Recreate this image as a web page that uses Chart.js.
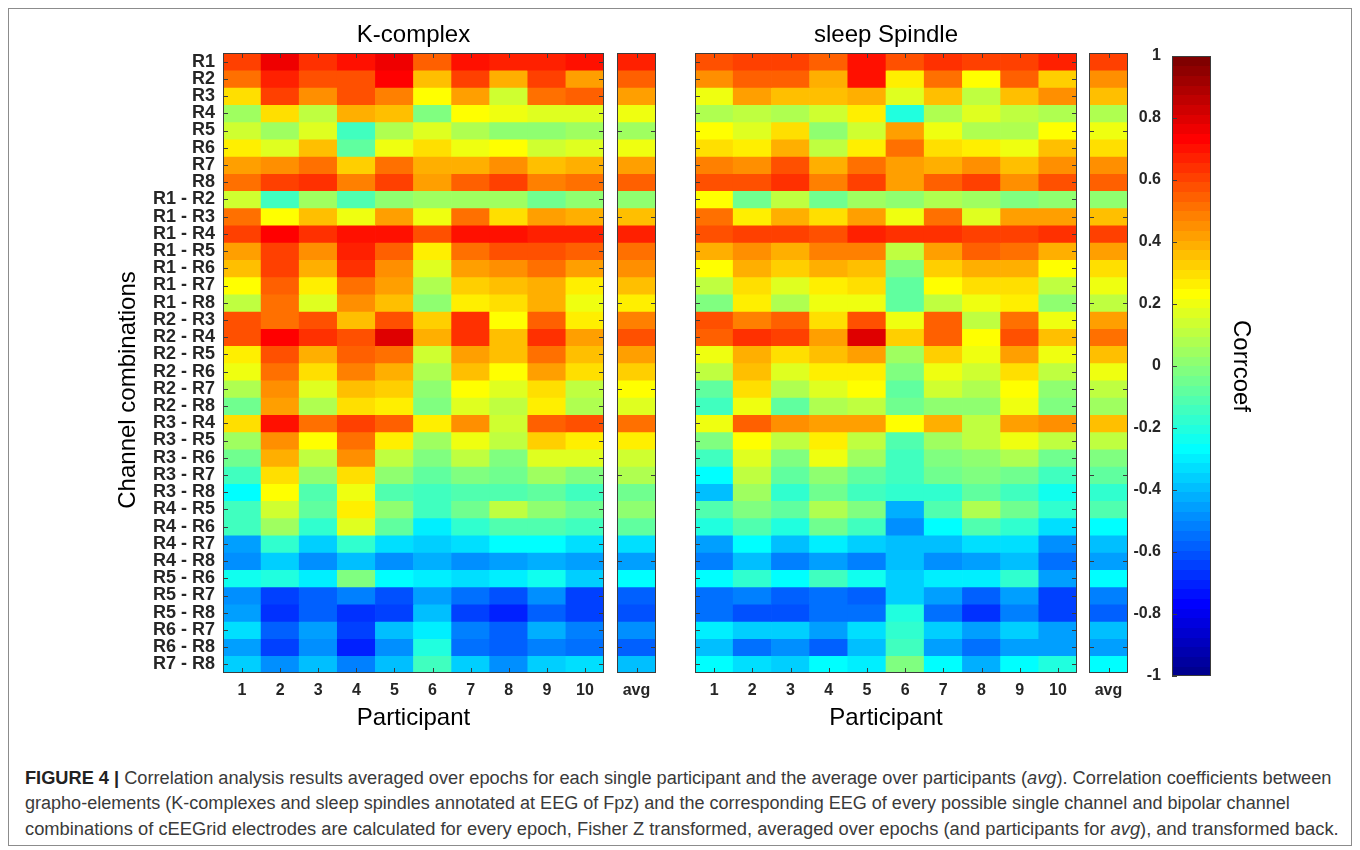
<!DOCTYPE html>
<html>
<head>
<meta charset="utf-8">
<script src="https://cdn.jsdelivr.net/npm/chart.js@4.4.1/dist/chart.umd.min.js"></script>
<style>
html,body{margin:0;padding:0;background:#fff;}
#fig{position:relative;width:1360px;height:850px;overflow:hidden;background:#fff;font-family:"Liberation Sans",Arial,sans-serif;}
.cv{position:absolute;top:0;}
.frame{position:absolute;left:8px;top:8px;width:1344px;height:838px;border:1px solid #8c8c8c;box-sizing:border-box;}
.ytitle{position:absolute;width:400px;height:30px;line-height:30px;text-align:center;font-size:24px;color:#000;transform:rotate(-90deg);transform-origin:50% 50%;}
.cap{position:absolute;left:25px;white-space:nowrap;font-family:"Liberation Sans Narrow","Liberation Sans",Arial,sans-serif;font-size:18px;line-height:22px;height:22px;color:#3a3a3a;transform-origin:0 50%;}
.cap b{color:#222;}
</style>
</head>
<body>
<div id="fig">
  <div class="frame"></div>
  <canvas id="kMain" class="cv" width="614" height="740" style="left:0px"></canvas>
  <canvas id="kAvg" class="cv" width="70" height="740" style="left:600px"></canvas>
  <canvas id="sMain" class="cv" width="410" height="740" style="left:680px"></canvas>
  <canvas id="sAvg" class="cv" width="70" height="740" style="left:1075px"></canvas>
  <canvas id="cbar" class="cv" width="210" height="740" style="left:1090px"></canvas>
  <div class="ytitle" style="left:-73px;top:375px;">Channel combinations</div>
  <div class="cap" id="cap1" style="top:767px;"><b>FIGURE 4 |</b> Correlation analysis results averaged over epochs for each single participant and the average over participants (<i>avg</i>). Correlation coefficients between</div>
  <div class="cap" id="cap2" style="top:792px;">grapho-elements (K-complexes and sleep spindles annotated at EEG of Fpz) and the corresponding EEG of every possible single channel and bipolar channel</div>
  <div class="cap" id="cap3" style="top:818px;">combinations of cEEGrid electrodes are calculated for every epoch, Fisher Z transformed, averaged over epochs (and participants for <i>avg</i>), and transformed back.</div>
</div>
<script>
// ---------------- DATA ----------------
const channels = ['R1','R2','R3','R4','R5','R6','R7','R8',
  'R1 - R2','R1 - R3','R1 - R4','R1 - R5','R1 - R6','R1 - R7','R1 - R8',
  'R2 - R3','R2 - R4','R2 - R5','R2 - R6','R2 - R7','R2 - R8',
  'R3 - R4','R3 - R5','R3 - R6','R3 - R7','R3 - R8',
  'R4 - R5','R4 - R6','R4 - R7','R4 - R8',
  'R5 - R6','R5 - R7','R5 - R8','R6 - R7','R6 - R8','R7 - R8'];
const participants = ['1','2','3','4','5','6','7','8','9','10'];
const avgLabels = ['avg'];
const kTitle = 'K-complex';
const sTitle = 'sleep Spindle';

const kComplex = [
  [0.62,0.78,0.66,0.72,0.79,0.57,0.72,0.70,0.70,0.72],
  [0.53,0.68,0.60,0.60,0.75,0.38,0.63,0.40,0.63,0.44],
  [0.32,0.63,0.47,0.60,0.50,0.25,0.44,0.15,0.53,0.56],
  [0.06,0.32,0.13,0.40,0.38,0.00,0.25,0.21,0.18,0.18],
  [0.15,0.06,0.18,-0.13,0.10,0.18,0.08,0.03,0.03,0.06],
  [0.29,0.18,0.36,-0.06,0.21,0.31,0.21,0.24,0.16,0.18],
  [0.44,0.47,0.53,0.34,0.52,0.40,0.42,0.48,0.38,0.41],
  [0.53,0.63,0.66,0.50,0.63,0.44,0.56,0.63,0.50,0.53],
  [0.15,-0.13,0.06,-0.09,0.03,0.06,0.06,0.06,-0.02,0.03],
  [0.53,0.25,0.38,0.21,0.45,0.21,0.53,0.32,0.44,0.41],
  [0.63,0.75,0.66,0.72,0.73,0.60,0.72,0.72,0.70,0.70],
  [0.44,0.63,0.47,0.68,0.56,0.27,0.53,0.60,0.60,0.56],
  [0.38,0.63,0.41,0.66,0.48,0.19,0.44,0.47,0.52,0.44],
  [0.25,0.55,0.29,0.53,0.44,0.10,0.34,0.38,0.41,0.29],
  [0.13,0.53,0.18,0.47,0.38,0.03,0.27,0.32,0.40,0.21],
  [0.58,0.53,0.60,0.36,0.60,0.34,0.66,0.25,0.55,0.27],
  [0.58,0.75,0.66,0.60,0.82,0.40,0.66,0.38,0.66,0.44],
  [0.29,0.58,0.41,0.56,0.53,0.16,0.44,0.38,0.52,0.36],
  [0.23,0.53,0.32,0.50,0.41,0.10,0.36,0.25,0.44,0.31],
  [0.08,0.47,0.18,0.38,0.34,0.03,0.25,0.19,0.32,0.13],
  [-0.02,0.44,0.08,0.32,0.29,0.00,0.18,0.13,0.29,0.10],
  [0.32,0.72,0.53,0.63,0.56,0.29,0.47,0.16,0.55,0.58],
  [0.06,0.47,0.25,0.53,0.29,0.06,0.21,0.13,0.34,0.29],
  [-0.02,0.41,0.13,0.47,0.14,0.00,0.11,0.00,0.18,0.18],
  [-0.13,0.32,0.03,0.32,0.03,-0.06,0.00,-0.02,0.06,0.00],
  [-0.25,0.25,-0.09,0.23,-0.09,-0.13,-0.09,-0.09,-0.06,-0.13],
  [-0.13,0.16,-0.06,0.29,0.03,-0.13,-0.02,0.14,0.03,-0.02],
  [-0.13,0.06,-0.16,0.19,-0.06,-0.28,-0.16,-0.09,-0.09,-0.13],
  [-0.43,-0.16,-0.34,-0.16,-0.31,-0.33,-0.31,-0.25,-0.25,-0.31],
  [-0.47,-0.33,-0.48,-0.38,-0.47,-0.41,-0.48,-0.43,-0.41,-0.44],
  [-0.22,-0.19,-0.28,0.00,-0.25,-0.28,-0.31,-0.28,-0.23,-0.33],
  [-0.47,-0.63,-0.55,-0.50,-0.58,-0.44,-0.53,-0.58,-0.48,-0.64],
  [-0.45,-0.66,-0.56,-0.66,-0.61,-0.38,-0.64,-0.68,-0.55,-0.64],
  [-0.31,-0.56,-0.44,-0.63,-0.38,-0.28,-0.50,-0.56,-0.41,-0.50],
  [-0.43,-0.63,-0.48,-0.69,-0.47,-0.19,-0.53,-0.56,-0.50,-0.53],
  [-0.33,-0.47,-0.38,-0.50,-0.36,-0.13,-0.34,-0.48,-0.33,-0.30]
];
const kComplexAvg = [0.70,0.56,0.44,0.21,0.06,0.21,0.44,0.56,0.03,0.38,0.70,0.53,0.47,0.38,0.29,
  0.50,0.60,0.45,0.34,0.25,0.19,0.52,0.29,0.16,0.08,-0.02,0.03,-0.06,-0.30,-0.44,
  -0.25,-0.55,-0.60,-0.47,-0.56,-0.38];

const spindle = [
  [0.60,0.63,0.63,0.56,0.72,0.60,0.66,0.63,0.63,0.70],
  [0.47,0.56,0.56,0.41,0.72,0.29,0.53,0.25,0.56,0.34],
  [0.21,0.44,0.38,0.38,0.41,0.19,0.36,0.13,0.38,0.48],
  [0.08,0.13,0.10,0.16,0.29,-0.19,0.10,0.18,0.13,0.10],
  [0.24,0.18,0.31,0.03,0.16,0.45,0.21,0.10,0.10,0.25],
  [0.32,0.29,0.41,0.14,0.29,0.53,0.31,0.29,0.21,0.38],
  [0.50,0.47,0.58,0.40,0.53,0.44,0.41,0.48,0.38,0.48],
  [0.58,0.58,0.66,0.50,0.63,0.44,0.55,0.63,0.48,0.58],
  [0.25,-0.02,0.13,-0.02,0.06,0.03,0.10,0.06,0.00,0.03],
  [0.52,0.29,0.40,0.32,0.44,0.23,0.52,0.19,0.44,0.44],
  [0.58,0.63,0.63,0.60,0.70,0.66,0.66,0.63,0.63,0.66],
  [0.40,0.47,0.41,0.50,0.50,0.14,0.45,0.55,0.53,0.41],
  [0.25,0.41,0.34,0.41,0.36,0.00,0.34,0.40,0.42,0.25],
  [0.13,0.32,0.19,0.29,0.32,-0.06,0.25,0.32,0.32,0.13],
  [0.00,0.29,0.10,0.21,0.21,-0.06,0.13,0.21,0.29,0.03],
  [0.58,0.50,0.56,0.31,0.60,0.21,0.56,0.14,0.53,0.21],
  [0.56,0.66,0.63,0.44,0.80,0.34,0.56,0.25,0.60,0.38],
  [0.23,0.41,0.32,0.36,0.45,0.06,0.34,0.23,0.44,0.23],
  [0.13,0.38,0.19,0.29,0.29,0.00,0.23,0.16,0.32,0.13],
  [-0.06,0.31,0.08,0.19,0.25,-0.06,0.16,0.08,0.25,0.03],
  [-0.13,0.23,-0.06,0.10,0.13,-0.02,0.03,0.03,0.21,0.00],
  [0.23,0.56,0.48,0.44,0.45,0.25,0.41,0.13,0.45,0.48],
  [0.00,0.25,0.13,0.29,0.14,-0.09,0.06,0.13,0.23,0.13],
  [-0.13,0.18,0.00,0.21,0.06,-0.13,0.00,0.03,0.10,-0.02],
  [-0.25,0.11,-0.06,0.03,-0.06,-0.13,-0.02,0.00,-0.02,-0.13],
  [-0.36,0.06,-0.16,-0.02,-0.13,-0.16,-0.16,-0.06,-0.13,-0.22],
  [-0.09,0.00,-0.06,0.10,0.00,-0.41,-0.09,0.10,-0.02,-0.16],
  [-0.19,-0.09,-0.19,-0.02,-0.13,-0.47,-0.25,-0.09,-0.16,-0.31],
  [-0.44,-0.25,-0.39,-0.28,-0.34,-0.39,-0.36,-0.30,-0.30,-0.48],
  [-0.50,-0.36,-0.50,-0.43,-0.50,-0.39,-0.48,-0.44,-0.38,-0.53],
  [-0.25,-0.16,-0.25,-0.13,-0.22,-0.33,-0.28,-0.28,-0.16,-0.43],
  [-0.53,-0.50,-0.56,-0.52,-0.55,-0.34,-0.44,-0.55,-0.43,-0.61],
  [-0.53,-0.58,-0.58,-0.52,-0.53,-0.19,-0.52,-0.66,-0.50,-0.61],
  [-0.28,-0.34,-0.34,-0.43,-0.31,-0.16,-0.33,-0.45,-0.34,-0.45],
  [-0.36,-0.52,-0.47,-0.55,-0.38,-0.13,-0.44,-0.53,-0.44,-0.45],
  [-0.25,-0.30,-0.33,-0.25,-0.28,0.00,-0.25,-0.41,-0.25,-0.19]
];
const spindleAvg = [0.63,0.47,0.36,0.10,0.21,0.32,0.47,0.55,0.03,0.38,0.63,0.44,0.31,0.21,0.14,
  0.44,0.53,0.36,0.23,0.13,0.06,0.38,0.13,0.00,-0.06,-0.16,-0.09,-0.26,-0.36,-0.45,
  -0.25,-0.50,-0.55,-0.36,-0.44,-0.25];

const colorbarTicks = [-1,-0.8,-0.6,-0.4,-0.2,0,0.2,0.4,0.6,0.8,1];
const avgTickRows = [4,9,14,19,24,29,34];

// ---------------- COLORMAP (jet, 64 levels) ----------------
const NLEV = 64;
function jetAt(t) {
  const c = x => Math.round(255 * Math.max(0, Math.min(1, x)));
  return 'rgb(' + c(1.5 - Math.abs(4*t - 3)) + ',' + c(1.5 - Math.abs(4*t - 2)) + ',' + c(1.5 - Math.abs(4*t - 1)) + ')';
}
function jetColor(v) {
  let k = Math.round((v + 1) / 2 * NLEV);
  k = Math.max(1, Math.min(NLEV, k));
  return jetAt(k / NLEV);
}

// ---------------- CHART SETUP ----------------
const FAMILY = "'Liberation Sans', Arial, Helvetica, sans-serif";
Chart.defaults.font.family = FAMILY;
Chart.defaults.color = '#262626';

const frameTicks = {
  id: 'frameTicks',
  afterDatasetsDraw(chart, args, opts) {
    const {ctx, chartArea: a, scales} = chart;
    const L = 5;
    ctx.save();
    ctx.strokeStyle = '#3c3c3c';
    ctx.lineWidth = 1;
    ctx.beginPath();
    (opts.rows || []).forEach(r => {
      const py = Math.round(scales.y.getPixelForValue(r + 0.5)) + 0.5;
      ctx.moveTo(a.left, py); ctx.lineTo(a.left + L, py);
      ctx.moveTo(a.right, py); ctx.lineTo(a.right - L, py);
    });
    if (opts.cols) {
      const xs = scales.x;
      for (let i = 0; i < xs.ticks.length; i++) {
        const px = Math.round(xs.getPixelForTick(i)) + 0.5;
        ctx.moveTo(px, a.top); ctx.lineTo(px, a.top + L);
        ctx.moveTo(px, a.bottom); ctx.lineTo(px, a.bottom - L);
      }
    }
    ctx.stroke();
    ctx.strokeRect(Math.round(a.left) + 0.5, Math.round(a.top) + 0.5, Math.round(a.width) - 1, Math.round(a.height) - 1);
    ctx.restore();
  }
};

function heatChart(id, cols, matrix, o) {
  const datasets = matrix.map((row, r) => ({
    data: row.map(() => [r, r + 1]),
    backgroundColor: row.map(jetColor),
    borderWidth: 0,
    barPercentage: 1,
    categoryPercentage: 1,
    grouped: false
  }));
  const scales = {
    x: {
      type: 'category',
      offset: true,
      grid: {display: false, drawTicks: false},
      border: {display: false},
      ticks: {padding: 8, font: {size: 16, weight: 'bold'}, color: '#262626', maxRotation: 0, autoSkip: false},
      title: {display: !!o.xTitle, text: o.xTitle || '', font: {size: 24}, color: '#000', padding: {top: 0, bottom: 0}},
      afterFit: s => { s.height = 60; }
    },
    y: {
      type: 'linear', min: 0, max: channels.length, reverse: true,
      display: !!o.yLabels,
      afterBuildTicks: s => { s.ticks = channels.map((_, i) => ({value: i + 0.5})); },
      grid: {display: false, drawTicks: false},
      border: {display: false},
      ticks: {autoSkip: false, padding: 8, font: {size: 18, weight: 'bold'}, color: '#262626',
              callback: (v, i) => channels[i]},
      afterFit: s => { if (o.yWidth) s.width = o.yWidth; }
    }
  };
  if (o.title) {
    scales.xt = {
      type: 'linear', position: 'top', min: 0, max: 1,
      grid: {display: false, drawTicks: false}, border: {display: false},
      ticks: {display: false},
      title: {display: true, text: o.title, font: {size: 24}, color: '#000', padding: {top: 21, bottom: 0}},
      afterFit: s => { s.height = 53; }
    };
  }
  return new Chart(document.getElementById(id), {
    type: 'bar',
    data: {labels: cols, datasets},
    options: {
      responsive: false, animation: false, devicePixelRatio: 1,
      layout: {padding: o.padding},
      plugins: {legend: {display: false}, tooltip: {enabled: false}, title: {display: false},
                frameTicks: {rows: o.tickRows, cols: true}},
      scales
    },
    plugins: [frameTicks]
  });
}

const allRows = channels.map((_, i) => i);

heatChart('kMain', participants, kComplex, {
  yLabels: true, yWidth: 223, title: kTitle, xTitle: 'Participant', tickRows: allRows,
  padding: {left: 0, right: 10, top: 0, bottom: 7}
});
heatChart('kAvg', avgLabels, kComplexAvg.map(v => [v]), {
  tickRows: avgTickRows, padding: {left: 17, right: 14, top: 53, bottom: 7}
});
heatChart('sMain', participants, spindle, {
  title: sTitle, xTitle: 'Participant', tickRows: allRows,
  padding: {left: 15, right: 13, top: 0, bottom: 7}
});
heatChart('sAvg', avgLabels, spindleAvg.map(v => [v]), {
  tickRows: avgTickRows, padding: {left: 14, right: 17, top: 53, bottom: 7}
});

// ---------------- COLORBAR ----------------
const colorbarPlugin = {
  id: 'colorbarPlugin',
  beforeDatasetsDraw(chart) {
    const {ctx, chartArea: a, scales: {y}} = chart;
    ctx.save();
    for (let k = 1; k <= NLEV; k++) {
      const lo = -1 + (k - 1) * 2 / NLEV, hi = -1 + k * 2 / NLEV;
      const y0 = y.getPixelForValue(hi), y1 = y.getPixelForValue(lo);
      ctx.fillStyle = jetAt(k / NLEV);
      ctx.fillRect(a.left, Math.floor(y0), a.width, Math.ceil(y1) - Math.floor(y0));
    }
    ctx.strokeStyle = '#3c3c3c'; ctx.lineWidth = 1;
    ctx.beginPath();
    y.ticks.forEach(t => {
      const py = Math.round(y.getPixelForValue(t.value)) + 0.5;
      ctx.moveTo(a.left, py); ctx.lineTo(a.left + 5, py);
    });
    ctx.stroke();
    ctx.strokeRect(Math.round(a.left) + 0.5, Math.round(a.top) + 0.5, Math.round(a.width) - 1, Math.round(a.height) - 1);
    ctx.restore();
  }
};
new Chart(document.getElementById('cbar'), {
  type: 'scatter',
  data: {datasets: [{data: []}]},
  options: {
    responsive: false, animation: false, devicePixelRatio: 1,
    layout: {padding: {left: 0, right: 0, top: 56, bottom: 64}},
    plugins: {legend: {display: false}, tooltip: {enabled: false}},
    scales: {
      x: {display: false, min: 0, max: 1},
      y: {
        type: 'linear', position: 'left', min: -1, max: 1,
        afterBuildTicks: s => { s.ticks = colorbarTicks.map(v => ({value: v})); },
        grid: {display: false, drawTicks: false}, border: {display: false},
        ticks: {autoSkip: false, padding: 11, font: {size: 16, weight: 'bold'}, color: '#262626',
                callback: v => String(Math.round(v * 10) / 10)},
        afterFit: s => { s.width = 82; }
      },
      y2: {
        type: 'linear', position: 'right', min: -1, max: 1,
        grid: {display: false, drawTicks: false}, border: {display: false},
        ticks: {display: false},
        title: {display: true, text: 'Corrcoef', font: {size: 24}, color: '#000', padding: {top: 45, bottom: 0}},
        afterFit: s => { s.width = 89; }
      }
    }
  },
  plugins: [colorbarPlugin]
});

// ---------------- CAPTION WIDTH FIT ----------------
const capTargets = {cap1: 1306, cap2: 1265, cap3: 1314};
Object.keys(capTargets).forEach(id => {
  const el = document.getElementById(id);
  const w = el.scrollWidth;
  if (w > 0) el.style.transform = 'scaleX(' + (capTargets[id] / w) + ')';
});
</script>
</body>
</html>
